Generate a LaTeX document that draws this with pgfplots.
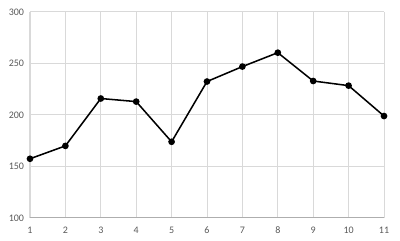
\documentclass[border=0pt]{standalone}
\usepackage{fontspec}
\setmainfont{Carlito}
\usepackage{pgfplots}
\pgfplotsset{compat=1.18}
\definecolor{gridc}{HTML}{D9D9D9}
\definecolor{labc}{HTML}{595959}
\begin{document}
\begin{tikzpicture}
\begin{axis}[
  scale only axis,
  width=265.5pt, height=154.5pt,
  xmin=1, xmax=11, ymin=100, ymax=300,
  xtick={1,...,11}, ytick={100,150,...,300},
  grid=major,
  major grid style={gridc, line width=0.75pt},
  axis line style={draw=none},
  axis x line*=bottom,
  axis y line*=left,
  x axis line style={draw=gridc!80!black, line width=0.75pt},
  y axis line style={draw=none},
  major tick length=0pt,
  tick style={draw=none},
  ticklabel style={font=\fontsize{7.5}{9}\selectfont, text=labc},
  /pgf/number format/assume math mode=true,
  xticklabel style={yshift=-3pt},
  yticklabel style={xshift=-1pt},
  clip=false,
]
\addplot[black, line width=1.15pt, mark=*, mark size=1.9pt] coordinates {
  (1,157.5) (2,170) (3,216) (4,213) (5,174) (6,232.5) (7,247) (8,260.5) (9,233) (10,228.5) (11,199)
};
\end{axis}
\path ([shift={(-22.5pt,-17pt)}]current axis.south west) rectangle ([shift={(12pt,9pt)}]current axis.north east);
\end{tikzpicture}
\end{document}
